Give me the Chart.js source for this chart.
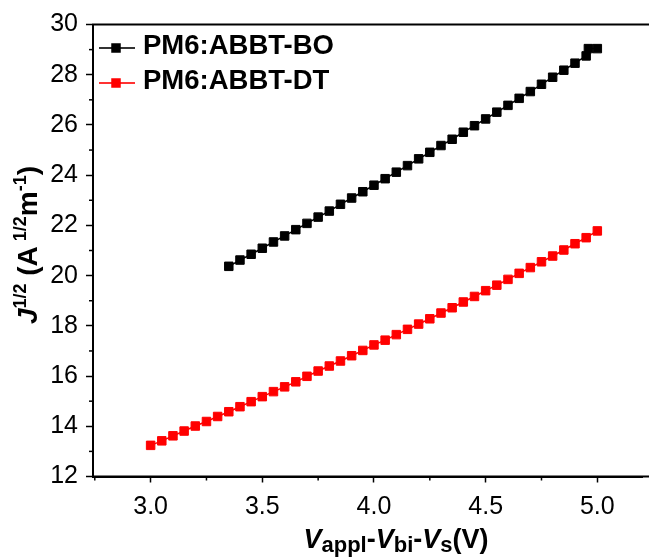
<!DOCTYPE html>
<html>
<head>
<meta charset="utf-8">
<script src="https://cdn.jsdelivr.net/npm/chart.js@4.4.0/dist/chart.umd.min.js"></script>
<style>
html,body{margin:0;padding:0;background:#fff;}
#wrap{width:649px;height:557px;position:relative;}
</style>
</head>
<body>
<div id="wrap"><canvas id="c" width="649" height="557"></canvas></div>
<script>
// ---- data ----
const seriesNames = ['PM6:ABBT-BO', 'PM6:ABBT-DT'];
const seriesColors = ['#000000', '#ff0000'];
const legendLineColors = ['#333333', '#ff3333'];

const boX = [3.35,3.40,3.45,3.50,3.55,3.60,3.65,3.70,3.75,3.80,3.85,3.90,3.95,4.00,4.05,4.10,4.15,
             4.20,4.25,4.30,4.35,4.40,4.45,4.50,4.55,4.60,4.65,4.70,4.75,4.80,4.85,4.90,4.95,4.96,5.00];
const boY = [20.37,20.62,20.85,21.09,21.34,21.58,21.83,22.08,22.33,22.57,22.84,23.09,23.34,23.60,23.86,24.12,24.38,
             24.65,24.91,25.18,25.43,25.71,25.97,26.24,26.51,26.78,27.06,27.33,27.62,27.90,28.18,28.46,28.75,29.04,29.04];

const dtX = [3.00,3.05,3.10,3.15,3.20,3.25,3.30,3.35,3.40,3.45,3.50,3.55,3.60,3.65,3.70,3.75,3.80,3.85,3.90,3.95,
             4.00,4.05,4.10,4.15,4.20,4.25,4.30,4.35,4.40,4.45,4.50,4.55,4.60,4.65,4.70,4.75,4.80,4.85,4.90,4.95,5.00];
const dtY = [13.24,13.42,13.62,13.81,14.01,14.19,14.39,14.58,14.78,14.98,15.18,15.38,15.57,15.77,15.99,16.20,16.40,16.60,16.81,17.02,
             17.24,17.43,17.65,17.86,18.07,18.28,18.51,18.72,18.95,19.17,19.40,19.62,19.85,20.09,20.32,20.55,20.78,21.02,21.27,21.51,21.78];

const xMajorTicks = [3.0, 3.5, 4.0, 4.5, 5.0];
const xMinorTicks = [2.75, 3.25, 3.75, 4.25, 4.75];
const yMajorTicks = [12, 14, 16, 18, 20, 22, 24, 26, 28, 30];
const yMinorTicks = [13, 15, 17, 19, 21, 23, 25, 27, 29];

// ---- style ----
const FONT = "'Liberation Sans', Arial, sans-serif";

function pts(xs, ys) { return xs.map((x, i) => ({ x: x, y: ys[i] })); }

function drawRich(ctx, segs, x, y) {
  let total = 0;
  segs.forEach(s => { ctx.font = s.font; s.w = ctx.measureText(s.text).width; total += s.w; });
  let cx = x - total / 2;
  segs.forEach(s => {
    ctx.font = s.font;
    ctx.fillText(s.text, cx, y + (s.dy || 0));
    cx += s.w;
  });
}

const decor = {
  id: 'decor',
  afterDraw(chart) {
    const ctx = chart.ctx;
    const xs = chart.scales.x, ys = chart.scales.y;
    const a = chart.chartArea;
    ctx.save();
    ctx.strokeStyle = '#000';
    ctx.lineWidth = 1.5;
    // minor ticks
    xMinorTicks.forEach(v => {
      const px = xs.getPixelForValue(v);
      ctx.beginPath(); ctx.moveTo(px, a.bottom); ctx.lineTo(px, a.bottom + 4); ctx.stroke();
    });
    yMinorTicks.forEach(v => {
      const py = ys.getPixelForValue(v);
      ctx.beginPath(); ctx.moveTo(a.left, py); ctx.lineTo(a.left - 4, py); ctx.stroke();
    });
    // top / bottom frame lines, running to the image edge
    ctx.lineWidth = 2;
    ctx.beginPath(); ctx.moveTo(a.left - 1, a.top); ctx.lineTo(649, a.top); ctx.stroke();
    ctx.beginPath(); ctx.moveTo(a.left - 1, a.bottom); ctx.lineTo(649, a.bottom); ctx.stroke();

    // legend
    const rows = [48, 83];
    seriesNames.forEach((name, i) => {
      const y = rows[i];
      ctx.strokeStyle = legendLineColors[i];
      ctx.lineWidth = 2;
      ctx.beginPath(); ctx.moveTo(99, y); ctx.lineTo(135, y); ctx.stroke();
      ctx.fillStyle = seriesColors[i];
      ctx.fillRect(116 - 4.75, y - 4.75, 9.5, 9.5);
      ctx.fillStyle = '#000';
      ctx.font = 'bold 27.5px ' + FONT;
      ctx.textBaseline = 'alphabetic';
      ctx.textAlign = 'left';
      ctx.fillText(name, 143, y + 6);
    });

    // x title
    ctx.fillStyle = '#000';
    ctx.textAlign = 'left';
    ctx.textBaseline = 'alphabetic';
    const M = 'bold 27px ' + FONT, MI = 'italic bold 27px ' + FONT, S = 'bold 22px ' + FONT;
    drawRich(ctx, [
      { text: 'V', font: MI }, { text: 'appl', font: S, dy: 4 },
      { text: '-', font: M },
      { text: 'V', font: MI }, { text: 'bi', font: S, dy: 4 },
      { text: '-', font: M },
      { text: 'V', font: MI }, { text: 's', font: S, dy: 4 },
      { text: '(V)', font: M }
    ], 396, 548);

    // y title
    ctx.save();
    ctx.translate(37, 245);
    ctx.rotate(-Math.PI / 2);
    const YM = 'bold 28px ' + FONT, YMI = 'italic bold 28px ' + FONT, YS = 'bold 18px ' + FONT;
    drawRich(ctx, [
      { text: 'J', font: YMI }, { text: '1/2', font: YS, dy: -11 },
      { text: ' (A', font: YM }, { text: ' 1/2', font: YS, dy: -11 },
      { text: 'm', font: YM }, { text: '-1', font: YS, dy: -11 },
      { text: ')', font: YM }
    ], 0, 0);
    ctx.restore();
    ctx.restore();
  }
};

const ds = (i, data) => ({
  label: seriesNames[i],
  data: data,
  showLine: true,
  borderColor: seriesColors[i],
  backgroundColor: seriesColors[i],
  borderWidth: 1.5,
  pointStyle: 'rect',
  pointRadius: 6,
  pointBorderWidth: 1,
  pointBorderColor: seriesColors[i],
  pointBackgroundColor: seriesColors[i]
});

new Chart(document.getElementById('c'), {
  type: 'scatter',
  data: { datasets: [ds(0, pts(boX, boY)), ds(1, pts(dtX, dtY))] },
  options: {
    responsive: false,
    animation: false,
    devicePixelRatio: 1,
    layout: { padding: { top: 24.5, left: 0, right: 0, bottom: 0 } },
    plugins: { legend: { display: false }, tooltip: { enabled: false } },
    scales: {
      x: {
        type: 'linear', min: 2.742, max: 5.2,
        afterBuildTicks: s => { s.ticks = xMajorTicks.map(v => ({ value: v })); },
        afterFit: s => { s.height = 557 - 476.5; },
        ticks: { color: '#000', font: { family: FONT, size: 25 }, padding: 10,
                 callback: v => Number(v).toFixed(1), maxRotation: 0, autoSkip: false },
        grid: { display: true, drawOnChartArea: false, drawTicks: true, tickLength: 6,
                tickWidth: 1.5, tickColor: '#000' },
        border: { display: true, color: '#000', width: 2 }
      },
      y: {
        type: 'linear', min: 12, max: 30,
        afterBuildTicks: s => { s.ticks = yMajorTicks.map(v => ({ value: v })); },
        afterFit: s => { s.width = 93; },
        ticks: { color: '#000', font: { family: FONT, size: 25 }, padding: 8,
                 callback: v => String(v), autoSkip: false },
        grid: { display: true, drawOnChartArea: false, drawTicks: true, tickLength: 7,
                tickWidth: 1.5, tickColor: '#000' },
        border: { display: true, color: '#000', width: 2 }
      }
    }
  },
  plugins: [decor]
});
</script>
</body>
</html>
